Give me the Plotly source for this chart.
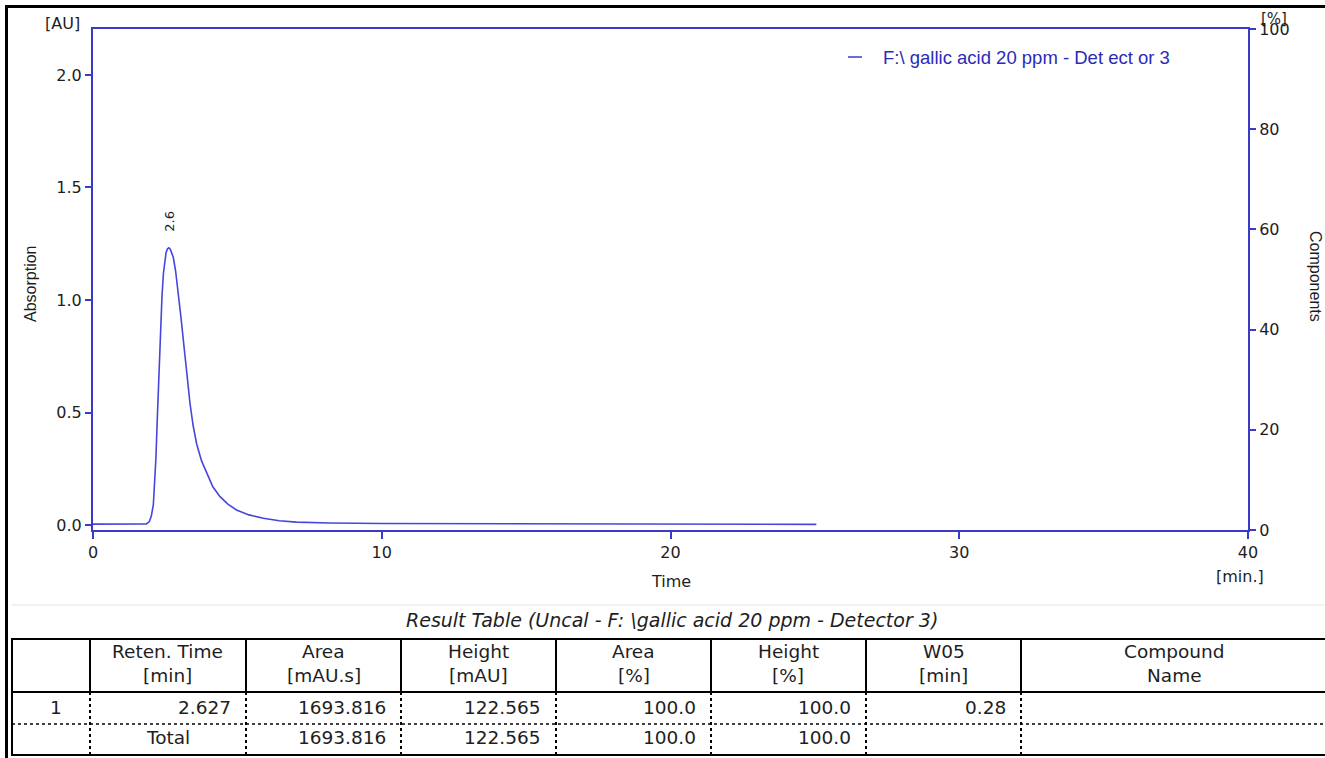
import plotly.graph_objects as go

# ---- chromatogram (time in min, absorbance in AU) ----
time_min = [0.0, 1.5, 1.85, 1.95, 2.02, 2.09, 2.14, 2.18, 2.22, 2.26, 2.30, 2.34,
            2.39, 2.44, 2.49, 2.53, 2.58, 2.627, 2.68, 2.73, 2.78, 2.86, 2.95,
            3.04, 3.13, 3.24, 3.36, 3.47, 3.59, 3.76, 3.94, 4.15, 4.40, 4.68,
            4.97, 5.40, 5.90, 6.45, 7.05, 8.2, 10.0, 12.5, 15.0, 16.68, 16.72,
            20.0, 25.05]
absorbance_au = [0.004, 0.004, 0.005, 0.015, 0.04, 0.09, 0.19, 0.30, 0.45, 0.60,
                 0.75, 0.89, 1.02, 1.12, 1.18, 1.21, 1.228, 1.232, 1.225, 1.21,
                 1.19, 1.13, 1.04, 0.93, 0.82, 0.68, 0.54, 0.44, 0.36, 0.285,
                 0.23, 0.17, 0.126, 0.092, 0.067, 0.045, 0.030, 0.019, 0.013,
                 0.009, 0.007, 0.006, 0.005, 0.005, 0.003, 0.003, 0.003]

trace_name = "F:\\ gallic acid 20 ppm - Det ect or 3"
peak_rt = 2.627
peak_height = 1.232

y_ticks = [0.0, 0.5, 1.0, 1.5, 2.0]
y2_ticks = [0, 20, 40, 60, 80, 100]
x_ticks = [0, 10, 20, 30, 40]

# ---- result table ----
table_title = "Result Table (Uncal - F: \\gallic acid 20 ppm - Detector 3)"
header_top = ["", "Reten. Time", "Area", "Height", "Area", "Height", "W05", "Compound"]
header_bottom = ["", "[min]", "[mAU.s]", "[mAU]", "[%]", "[%]", "[min]", "Name"]
row_peak = ["1", "2.627", "1693.816", "122.565", "100.0", "100.0", "0.28", ""]
row_total = ["", "Total", "1693.816", "122.565", "100.0", "100.0", "", ""]

W, H = 1325, 758
AXIS_BLUE = "#3a3ac4"
CURVE_BLUE = "#4646dc"
TEXT = "#1e1e1e"
TICK_FONT = dict(family="DejaVu Sans", size=16, color=TEXT)


def px(x):
    return x / W


def py(y):
    return 1 - y / H


fig = go.Figure()
fig.add_trace(go.Scatter(x=time_min, y=absorbance_au, mode="lines", name=trace_name,
                         line=dict(color=CURVE_BLUE, width=1.6), showlegend=False))
fig.add_trace(go.Scatter(x=[], y=[], yaxis="y2", showlegend=False))

plot_x0, plot_x1, plot_y0, plot_y1 = 93, 1248, 29, 530

fig.update_layout(
    width=W, height=H,
    margin=dict(l=0, r=0, t=0, b=0, pad=0),
    paper_bgcolor="white", plot_bgcolor="white",
    showlegend=False,
    xaxis=dict(domain=[px(plot_x0), px(plot_x1)], range=[0, 40], automargin=False,
               tickvals=x_ticks, ticktext=[str(v) for v in x_ticks],
               ticks="outside", ticklen=7, tickcolor=AXIS_BLUE, tickwidth=1.5,
               showline=True, linecolor=AXIS_BLUE, linewidth=2, mirror=True,
               showgrid=False, zeroline=False, tickfont=TICK_FONT),
    yaxis=dict(domain=[py(plot_y1), py(plot_y0)], range=[-0.0222, 2.2044],
               automargin=False,
               tickvals=y_ticks, ticktext=[f"{v:.1f}" for v in y_ticks],
               ticks="outside", ticklen=6, tickcolor=AXIS_BLUE, tickwidth=1.5,
               showline=True, linecolor=AXIS_BLUE, linewidth=2, mirror=True,
               showgrid=False, zeroline=False, tickfont=TICK_FONT),
    yaxis2=dict(overlaying="y", side="right", range=[0, 100], automargin=False,
                tickvals=y2_ticks, ticktext=[str(v) for v in y2_ticks],
                ticks="outside", ticklen=6, tickcolor=AXIS_BLUE, tickwidth=1.5,
                showline=True, linecolor=AXIS_BLUE, linewidth=2,
                showgrid=False, zeroline=False, tickfont=TICK_FONT),
)

annotations = []
shapes = []


def label(x, y, text, size=16, family="DejaVu Sans", xanchor="center",
          angle=0, color=TEXT, italic=False):
    annotations.append(dict(
        x=px(x), y=py(y), xref="paper", yref="paper", text=text,
        showarrow=False, xanchor=xanchor, yanchor="middle", textangle=angle,
        font=dict(family=family, size=size, color=color,
                  style="italic" if italic else "normal")))


# axis captions
label(62, 23, "[AU]")
label(1274, 19, "[%]", size=15)
label(30, 283, "Absorption", size=16, family="Liberation Sans", angle=-90)
label(1316, 276, "Components", size=16, family="Liberation Sans", angle=90)
label(671, 581, "Time")
label(1240, 576, "[min.]")

# peak retention time label
annotations.append(dict(x=peak_rt, y=peak_height, xref="x", yref="y",
                        text=f"{peak_rt:.1f}", showarrow=False, textangle=-90,
                        yshift=27, xshift=1,
                        font=dict(family="DejaVu Sans", size=13, color=TEXT)))

# legend entry
shapes.append(dict(type="line", xref="paper", yref="paper",
                   x0=px(848), x1=px(862), y0=py(57), y1=py(57),
                   line=dict(color=CURVE_BLUE, width=1.6)))
label(881, 58, trace_name, size=18.5, family="Liberation Sans",
      xanchor="left", color="#2b2bb8")

# outer frame and separator
shapes.append(dict(type="line", xref="paper", yref="paper",
                   x0=px(6.5), x1=px(6.5), y0=py(5), y1=0,
                   line=dict(color="black", width=3)))
shapes.append(dict(type="line", xref="paper", yref="paper",
                   x0=px(5), x1=1, y0=py(6.5), y1=py(6.5),
                   line=dict(color="black", width=3)))
shapes.append(dict(type="line", xref="paper", yref="paper",
                   x0=px(12), x1=1, y0=py(605), y1=py(605),
                   line=dict(color="#e2e2e2", width=1)))

# table geometry
col_edges = [12, 90, 246, 401, 556, 711, 866, 1021, 1329]
t_top, t_head, t_mid, t_bot = 639, 692, 724, 755

shapes.append(dict(type="rect", xref="paper", yref="paper",
                   x0=px(12), x1=px(1329), y0=py(t_top), y1=py(t_bot),
                   line=dict(color="black", width=2)))
shapes.append(dict(type="line", xref="paper", yref="paper",
                   x0=px(12), x1=1, y0=py(t_head), y1=py(t_head),
                   line=dict(color="black", width=2)))
shapes.append(dict(type="line", xref="paper", yref="paper",
                   x0=px(12), x1=1, y0=py(t_mid), y1=py(t_mid),
                   line=dict(color="black", width=1.5, dash="dot")))
for xe in col_edges[1:-1]:
    shapes.append(dict(type="line", xref="paper", yref="paper",
                       x0=px(xe), x1=px(xe), y0=py(t_top), y1=py(t_head),
                       line=dict(color="black", width=2)))
    shapes.append(dict(type="line", xref="paper", yref="paper",
                       x0=px(xe), x1=px(xe), y0=py(t_head), y1=py(t_bot),
                       line=dict(color="black", width=2, dash="dot")))

label(672, 620, table_title, size=19, italic=True)

TABLE_SIZE = 18.5
for i in range(len(header_top)):
    left, right = col_edges[i], col_edges[i + 1]
    cx = (left + right) / 2
    if i == len(header_top) - 1:
        cx = 1174
    if header_top[i]:
        label(cx, 651, header_top[i], size=TABLE_SIZE)
    if header_bottom[i]:
        label(cx, 675, header_bottom[i], size=TABLE_SIZE)
    for text, yy in ((row_peak[i], 707), (row_total[i], 737)):
        if not text:
            continue
        if i == 0 or text == "Total":
            label(cx + (5 if i == 0 else 0), yy, text, size=TABLE_SIZE)
        else:
            label(right - 13, yy, text, size=TABLE_SIZE, xanchor="right")

fig.update_layout(annotations=annotations, shapes=shapes)
fig.write_html(
    "out.html",
    post_script="document.body.style.margin='0';document.body.style.overflow='hidden';",
)
